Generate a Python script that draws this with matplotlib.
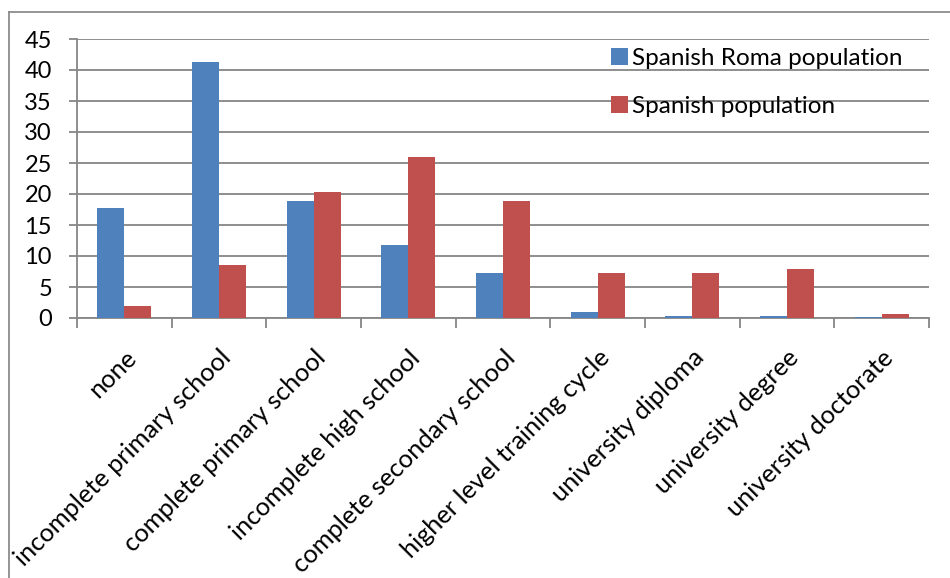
import matplotlib
matplotlib.use("Agg")
import matplotlib.pyplot as plt
from matplotlib.lines import Line2D
import numpy as np

plt.rcParams['font.family'] = ['Lato', 'DejaVu Sans']

categories = [
    "none",
    "incomplete primary school",
    "complete primary school",
    "incomplete high school",
    "complete secondary school",
    "higher level training cycle",
    "university diploma",
    "university degree",
    "university doctorate",
]
roma = [17.8, 41.3, 18.8, 11.8, 7.2, 1.0, 0.4, 0.4, 0.1]
spanish = [2.0, 8.5, 20.4, 26.0, 18.8, 7.2, 7.2, 7.9, 0.7]
series_names = ["Spanish Roma population", "Spanish population"]
yticks = list(range(0, 50, 5))

blue = "#4F81BD"
red = "#C0504D"
grid_gray = "#868686"

fig = plt.figure(figsize=(9.5, 5.78), dpi=100)
ax = fig.add_axes([77 / 950, 1 - 318 / 578, (929 - 77) / 950, (318 - 39) / 578])

x = np.arange(len(categories))
w = 1 / 3.5
ax.bar(x - w / 2, roma, width=w, color=blue, label=series_names[0], zorder=3)
ax.bar(x + w / 2, spanish, width=w, color=red, label=series_names[1], zorder=3)

ax.set_xlim(-0.5, len(categories) - 0.5)
ax.set_ylim(0, 45)
ax.set_yticks(yticks)
ax.yaxis.grid(True, color=grid_gray, linewidth=1.3, zorder=0)
ax.set_axisbelow(True)

for s in ["top", "right"]:
    ax.spines[s].set_visible(False)
for s in ["left", "bottom"]:
    ax.spines[s].set_color(grid_gray)
    ax.spines[s].set_linewidth(1.3)

ax.tick_params(axis="y", length=6, width=1.3, color=grid_gray, pad=12,
               labelsize=17)

# category boundaries carry the tick marks, centres carry the labels
ax.set_xticks(np.arange(-0.5, len(categories)), minor=False)
ax.set_xticklabels([])
ax.set_xticks(x, minor=True)
ax.set_xticklabels(categories, minor=True, rotation=45, ha="right",
                   rotation_mode="anchor", fontsize=18.3)
ax.tick_params(axis="x", which="major", length=7.5, width=1.3, color=grid_gray)
ax.tick_params(axis="x", which="minor", length=0, pad=20)

leg = ax.legend(loc="upper left", bbox_to_anchor=(0.613, 1.013), frameon=False,
                fontsize=17.5, handlelength=0.7, handleheight=0.75,
                handletextpad=0.15, labelspacing=1.1, borderaxespad=0.1)

# chart area border
fig.add_artist(Line2D([8.5 / 950, 8.5 / 950], [0, 1 - 11.5 / 578],
                      color="#8c8c8c", linewidth=1.3))
fig.add_artist(Line2D([8.5 / 950, 1], [1 - 11.5 / 578, 1 - 11.5 / 578],
                      color="#8c8c8c", linewidth=1.3))

fig.savefig("out.png", dpi=100)
